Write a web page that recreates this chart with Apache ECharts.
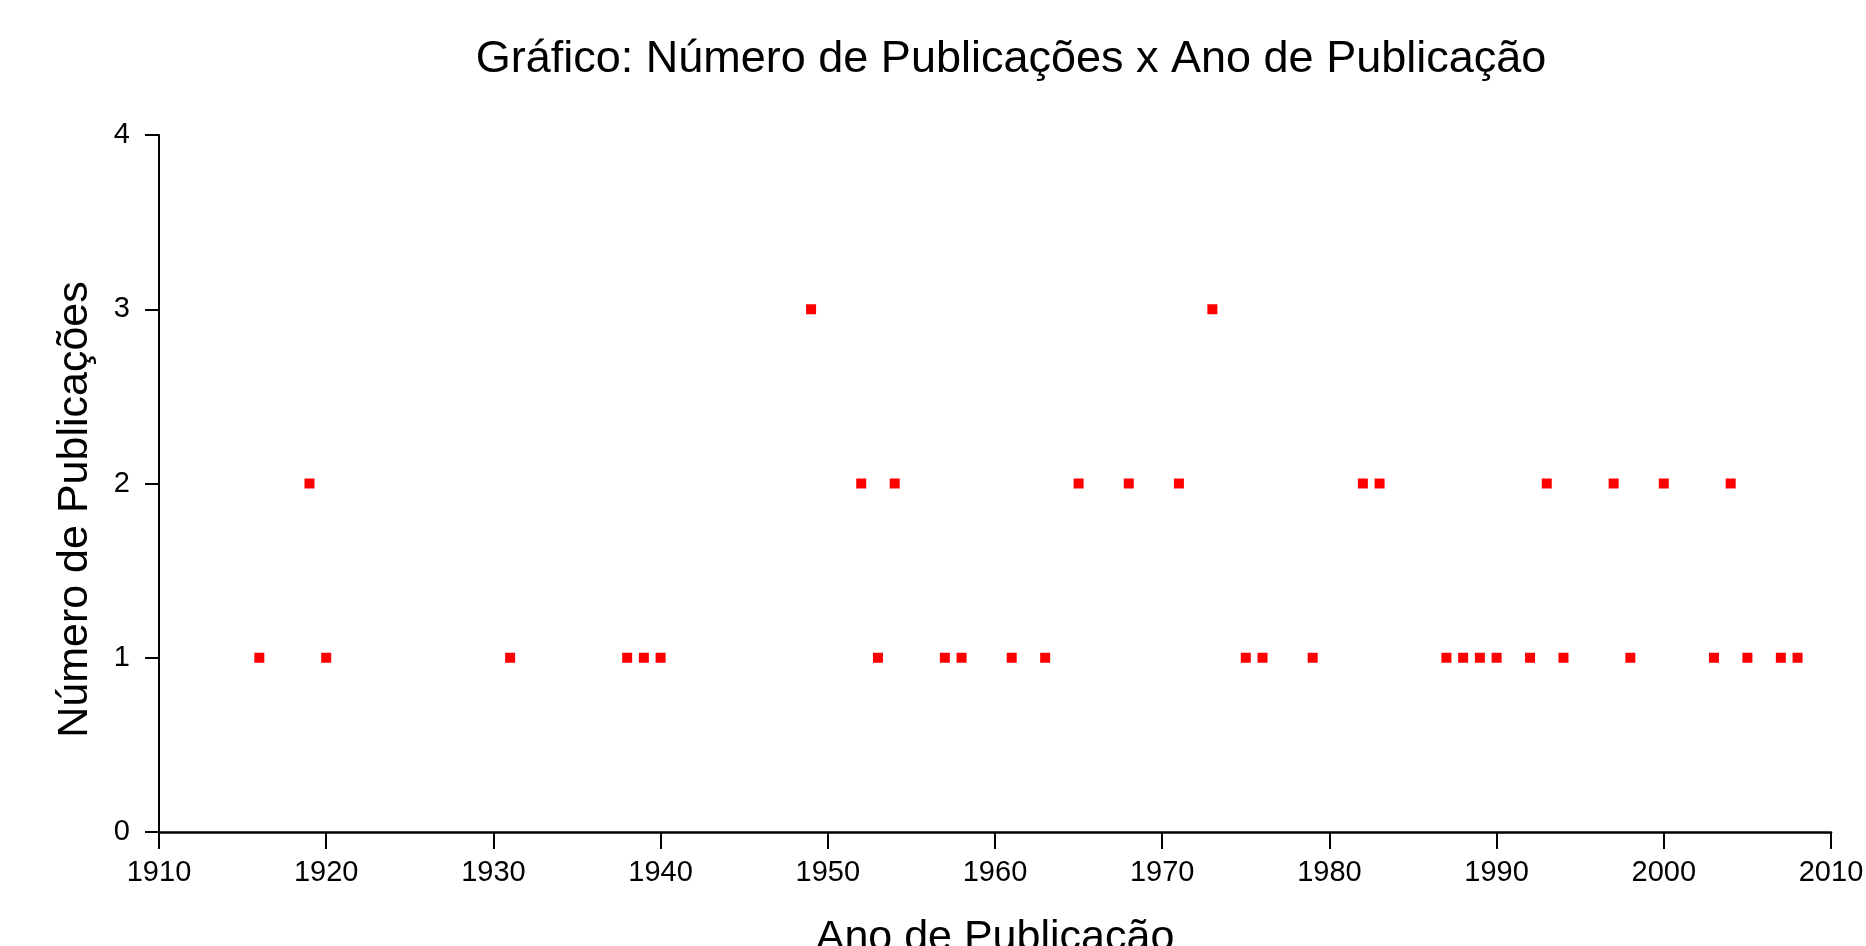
<!DOCTYPE html>
<html>
<head>
<meta charset="utf-8">
<script src="https://cdn.jsdelivr.net/npm/echarts@6/dist/echarts.min.js"></script>
<style>html,body{margin:0;padding:0;background:#fff;}#c{width:1866px;height:946px;}</style>
</head>
<body>
<div id="c"></div>
<script>
const titleText = 'Gráfico: Número de Publicações x Ano de Publicação';
const xName = 'Ano de Publicação';
const yName = 'Número de Publicações';
const years1 = [1916,1920,1931,1938,1939,1940,1953,1957,1958,1961,1963,1975,1976,1979,1987,1988,1989,1990,1992,1994,1998,2003,2005,2007,2008];
const years2 = [1919,1952,1954,1965,1968,1971,1982,1983,1993,1997,2000,2004];
const years3 = [1949,1973];

const data = [];
years1.forEach(y => data.push([y, 1]));
years2.forEach(y => data.push([y, 2]));
years3.forEach(y => data.push([y, 3]));

const font = 'Liberation Sans, Arial, sans-serif';
const chart = echarts.init(document.getElementById('c'), null, {renderer: 'canvas'});
chart.setOption({
  backgroundColor: '#ffffff',
  animation: false,
  title: {
    text: titleText,
    left: 1006, top: 32, textAlign: 'center',
    textStyle: {fontFamily: font, fontSize: 45, fontWeight: 'normal', color: '#000'}
  },
  grid: {left: 159, right: 35, top: 135, bottom: 114, containLabel: false, outerBoundsMode: 'none'},
  xAxis: {
    type: 'value', min: 1910, max: 2010, interval: 10,
    name: xName, nameLocation: 'middle', nameGap: 85,
    nameTextStyle: {fontFamily: font, fontSize: 43, color: '#000'},
    axisLine: {show: true, onZero: false, lineStyle: {color: '#000', width: 2.5}},
    axisTick: {show: true, length: 17, lineStyle: {color: '#000', width: 2}},
    axisLabel: {fontFamily: font, fontSize: 29, color: '#000', margin: 26, formatter: v => String(v)},
    splitLine: {show: false}
  },
  yAxis: {
    type: 'value', min: 0, max: 4, interval: 1,
    name: yName, nameLocation: 'middle', nameGap: 62,
    nameTextStyle: {fontFamily: font, fontSize: 43, color: '#000', padding: [0, 52, 0, 0]},
    axisLine: {show: true, onZero: false, lineStyle: {color: '#000', width: 2}},
    axisTick: {show: true, length: 14, lineStyle: {color: '#000', width: 2}},
    axisLabel: {fontFamily: font, fontSize: 29, color: '#000', margin: 29},
    splitLine: {show: false}
  },
  series: [{
    type: 'scatter',
    data: data,
    symbol: 'rect',
    symbolSize: [10, 10],
    itemStyle: {color: '#ff0000', opacity: 1}
  }]
});
</script>
</body>
</html>
